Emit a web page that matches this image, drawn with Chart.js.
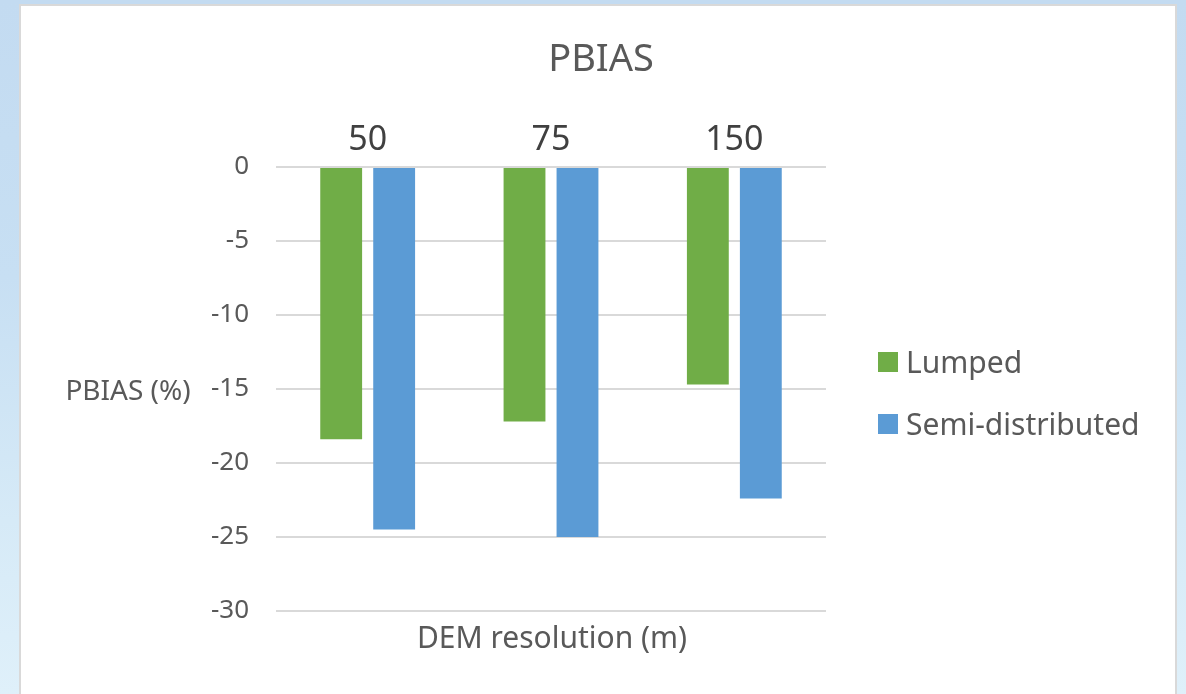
<!DOCTYPE html>
<html>
<head>
<meta charset="utf-8">
<script src="https://cdn.jsdelivr.net/npm/chart.js@4/dist/chart.umd.min.js"></script>
<style>
  html, body { margin: 0; padding: 0; }
  body {
    width: 1186px; height: 694px; overflow: hidden; position: relative;
    background: linear-gradient(180deg, #c3dbf1 0%, #c7dff3 40%, #d6eaf7 75%, #dff0fa 100%);
  }
  #panel {
    position: absolute; left: 19px; top: 4px; width: 1158px; height: 700px;
    box-sizing: border-box; background: #ffffff; border: 2px solid #d9d9d9;
  }
  #wrap { position: absolute; left: 0; top: 0; width: 1186px; height: 694px; }
</style>
</head>
<body>
<div id="panel"></div>
<div id="wrap"><canvas id="c" width="1186" height="694"></canvas></div>
<script>
// DEM resolutions (m) and PBIAS (%) per model setup
const categories = ['50', '75', '150'];
const lumped = [-18.4, -17.2, -14.7];
const semiDistributed = [-24.5, -25.0, -22.4];
const seriesNames = ['Lumped', 'Semi-distributed'];
const yTicks = [0, -5, -10, -15, -20, -25, -30];

const FONT = "'Noto Sans', 'Open Sans', sans-serif";
const GREY = '#595959';

// Titles and the side legend, drawn around the plot area
const decorations = {
  id: 'decorations',
  afterDraw(chart) {
    const ctx = chart.ctx;
    ctx.save();
    ctx.fillStyle = GREY;
    ctx.textBaseline = 'middle';

    ctx.textAlign = 'center';
    ctx.font = '38px ' + FONT;
    ctx.fillText('PBIAS', 601, 60);

    ctx.font = '28px ' + FONT;
    ctx.fillText('PBIAS (%)', 128, 392);

    ctx.font = '30px ' + FONT;
    ctx.fillText('DEM resolution (m)', 552, 639);

    ctx.textAlign = 'left';
    ctx.font = '30px ' + FONT;
    chart.data.datasets.forEach((ds, i) => {
      const y = 362 + i * 62;
      ctx.fillStyle = ds.backgroundColor;
      ctx.fillRect(878, y - 10, 20, 20);
      ctx.fillStyle = GREY;
      ctx.fillText(ds.label, 906, y + 2);
    });
    ctx.restore();
  }
};

new Chart(document.getElementById('c'), {
  type: 'bar',
  data: {
    labels: categories,
    datasets: [
      { label: seriesNames[0], data: lumped, backgroundColor: '#70ad47' },
      { label: seriesNames[1], data: semiDistributed, backgroundColor: '#5b9bd5' }
    ]
  },
  options: {
    responsive: false,
    animation: false,
    layout: { padding: { left: 0, top: 0, right: 360, bottom: 83 } },
    datasets: {
      bar: { categoryPercentage: 0.578, barPercentage: 0.79 }
    },
    plugins: {
      legend: { display: false },
      title: { display: false },
      tooltip: { enabled: false }
    },
    scales: {
      x: {
        position: 'top',
        grid: { display: false, drawTicks: false },
        border: { display: false },
        ticks: {
          color: '#404040',
          font: { family: FONT, size: 34 },
          padding: 6
        },
        afterFit(scale) { scale.height = 167; }
      },
      y: {
        min: Math.min(...yTicks),
        max: Math.max(...yTicks),
        afterBuildTicks(scale) { scale.ticks = yTicks.map(v => ({ value: v })); },
        grid: { color: '#d9d9d9', lineWidth: 2, drawTicks: false },
        border: { display: false },
        ticks: {
          color: GREY,
          font: { family: FONT, size: 26 },
          padding: 27
        },
        afterFit(scale) { scale.width = 276; }
      }
    }
  },
  plugins: [decorations]
});
</script>
</body>
</html>
